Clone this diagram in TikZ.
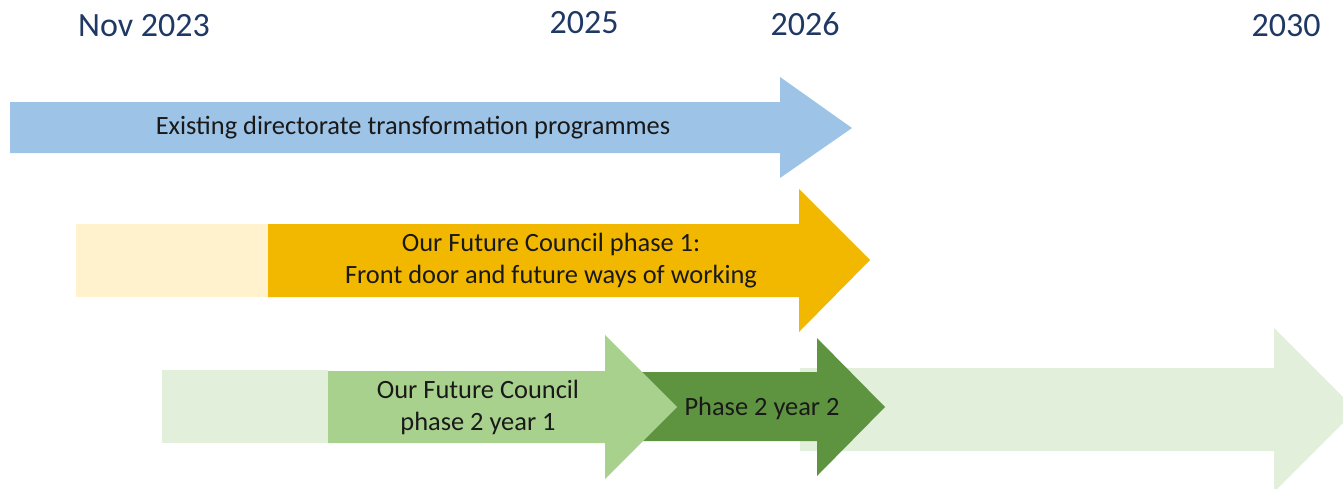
\documentclass[tikz,border=0pt]{standalone}
\usepackage{fontspec}
\setmainfont{Carlito}
\definecolor{navy}{HTML}{1F3864}
\definecolor{skyblue}{HTML}{9DC3E6}
\definecolor{paleyellow}{HTML}{FFF2CC}
\definecolor{gold}{HTML}{F2B800}
\definecolor{palegreen}{HTML}{E2EFDA}
\definecolor{midgreen}{HTML}{A9D18E}
\definecolor{darkgreen}{HTML}{5E9440}
\begin{document}
\begin{tikzpicture}[x=1pt,y=-1pt,
  year/.style={font=\fontsize{34}{40}\selectfont, text=navy, anchor=base, inner sep=0pt},
  label/.style={font=\fontsize{26.4}{32}\selectfont, text=black!90, align=center, inner sep=0pt}]
\useasboundingbox (0,0) rectangle (1343,488);

% timeline years
\node[year] (y2023) at (144,36) {Nov 2023};
\node[year] (y2025) at (584,33) {2025};
\node[year] (y2026) at (805,35) {2026};
\node[year] (y2030) at (1286,36) {2030};

% existing programmes
\fill[skyblue] (10,102) -- (780,102) -- (780,77) -- (852,128) -- (780,178) -- (780,153) -- (10,153) -- cycle;
\node[label] (existing) at (413,128) {Existing directorate transformation programmes};

% phase 1
\fill[paleyellow] (76,224) rectangle (268,297);
\fill[gold] (268,224) -- (799,224) -- (799,189) -- (870,260) -- (799,332) -- (799,297) -- (268,297) -- cycle;
\node[label] (phase1) at (551,261) {Our Future Council phase 1:\\Front door and future ways of working};

% phase 2
\fill[palegreen] (162,370) rectangle (328,443);
\fill[palegreen] (800,368) -- (1274,368) -- (1274,328) -- (1356,410) -- (1274,492) -- (1274,451) -- (800,451) -- cycle;
\fill[darkgreen] (620,372) -- (817,372) -- (817,338) -- (885,407) -- (817,476) -- (817,441) -- (620,441) -- cycle;
\fill[midgreen] (328,371) -- (605,371) -- (605,335) -- (677,407) -- (605,479) -- (605,443) -- (328,443) -- cycle;
\node[label] (p2y1) at (478,407) {Our Future Council\\phase 2 year 1};
\node[label] (p2y2) at (762,408) {Phase 2 year 2};
\end{tikzpicture}
\end{document}
